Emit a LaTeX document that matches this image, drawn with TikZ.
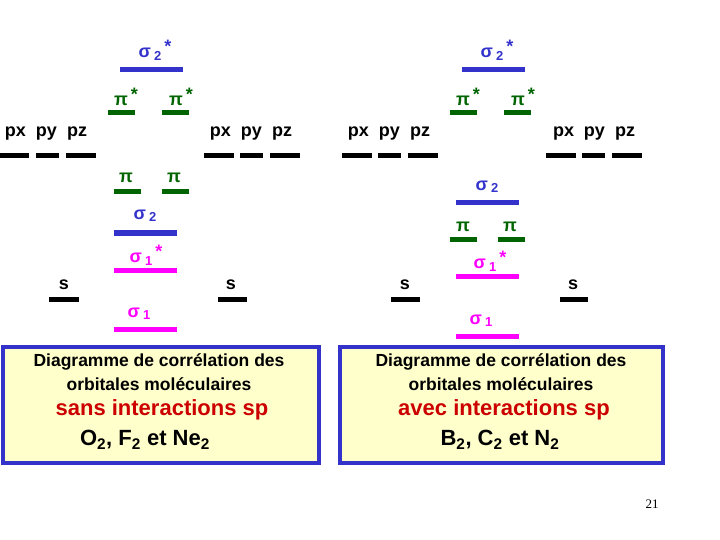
\documentclass[tikz,border=0pt]{standalone}
\usepackage{fontspec}
\setmainfont{Liberation Sans}
\newfontfamily\serifnum{Liberation Serif}
\definecolor{mblue}{RGB}{51,51,204}
\definecolor{mgreen}{RGB}{0,100,0}
\definecolor{mmag}{RGB}{255,0,255}
\definecolor{mred}{RGB}{204,0,0}
\definecolor{myel}{RGB}{255,255,204}
\newcommand{\lvl}[5]{\draw[line width=5pt,#5] (#2,#4) -- (#3,#4) coordinate (#1);}
\newcommand{\sgm}[1]{σ\,{\fontsize{13}{14}\selectfont\raisebox{-0.35ex}{#1}}}
\newcommand{\st}{\,\raisebox{0.6ex}{*}}
\begin{document}
\begin{tikzpicture}[x=1pt,y=-1pt,
  lab/.style={font=\fontsize{18}{20}\selectfont\bfseries,inner sep=0pt},
  sig/.style={font=\fontsize{18}{20}\selectfont\bfseries,inner sep=0pt},
  boxst/.style={draw=mblue,line width=4pt,fill=myel},
  txt/.style={font=\fontsize{17.5}{20}\selectfont\bfseries,inner sep=0pt},
  big/.style={font=\fontsize{22}{24}\selectfont\bfseries,inner sep=0pt}]
\useasboundingbox (0,0) rectangle (720,540);
% left diagram
\lvl{ls2s}{120}{183}{70}{mblue}
\node[sig,text=mblue] (lls2s) at (155,50) {\sgm{2}\st};
\lvl{lpsa}{108}{135}{113}{mgreen}
\lvl{lpsb}{162}{189}{113}{mgreen}
\node[sig,text=mgreen] (llpsa) at (126,97) {π\st};
\node[sig,text=mgreen] (llpsb) at (181,97) {π\st};
\lvl{lpx1}{0}{29}{156}{black}\lvl{lpy1}{36}{59}{156}{black}\lvl{lpz1}{66}{96}{156}{black}
\node[lab] (lp1) at (46,134) {px\ \ py\ \ pz};
\lvl{lpx2}{204}{234}{156}{black}\lvl{lpy2}{240}{263}{156}{black}\lvl{lpz2}{270}{300}{156}{black}
\node[lab] (lp2) at (251,134) {px\ \ py\ \ pz};
\lvl{lpa}{114}{141}{192}{mgreen}
\lvl{lpb}{162}{189}{192}{mgreen}
\node[sig,text=mgreen] (llpa) at (126,178) {π};
\node[sig,text=mgreen] (llpb) at (174,178) {π};
\lvl{ls2}{114}{177}{233}{mblue}
\node[sig,text=mblue] (lls2) at (145,216) {\sgm{2}};
\lvl{ls1s}{114}{177}{270}{mmag}
\node[sig,text=mmag] (lls1s) at (146,255) {\sgm{1}\st};
\lvl{lsa}{49}{79}{299}{black}\lvl{lsb}{218}{247}{299}{black}
\node[lab] (llsa) at (64,285) {s};
\node[lab] (llsb) at (231,285) {s};
\lvl{ls1}{114}{177}{329}{mmag}
\node[sig,text=mmag] (lls1) at (139,314) {\sgm{1}};
% right diagram
\lvl{rs2s}{462}{525}{70}{mblue}
\node[sig,text=mblue] (rls2s) at (497,50) {\sgm{2}\st};
\lvl{rpsa}{450}{477}{113}{mgreen}
\lvl{rpsb}{504}{531}{113}{mgreen}
\node[sig,text=mgreen] (rlpsa) at (468,97) {π\st};
\node[sig,text=mgreen] (rlpsb) at (523,97) {π\st};
\lvl{rpx1}{342}{372}{156}{black}\lvl{rpy1}{378}{401}{156}{black}\lvl{rpz1}{408}{438}{156}{black}
\node[lab] (rp1) at (389,134) {px\ \ py\ \ pz};
\lvl{rpx2}{546}{576}{156}{black}\lvl{rpy2}{582}{605}{156}{black}\lvl{rpz2}{612}{642}{156}{black}
\node[lab] (rp2) at (594,134) {px\ \ py\ \ pz};
\lvl{rs2}{456}{519}{203}{mblue}
\node[sig,text=mblue] (rls2) at (487,187) {\sgm{2}};
\lvl{rpa}{450}{477}{239}{mgreen}
\lvl{rpb}{498}{525}{239}{mgreen}
\node[sig,text=mgreen] (rlpa) at (463,227) {π};
\node[sig,text=mgreen] (rlpb) at (510,227) {π};
\lvl{rs1s}{456}{519}{276}{mmag}
\node[sig,text=mmag] (rls1s) at (490,261) {\sgm{1}\st};
\lvl{rsa}{391}{420}{299}{black}\lvl{rsb}{560}{588}{299}{black}
\node[lab] (rlsa) at (405,285) {s};
\node[lab] (rlsb) at (573,285) {s};
\lvl{rs1}{456}{519}{336}{mmag}
\node[sig,text=mmag] (rls1) at (481,321) {\sgm{1}};
% boxes
\draw[boxst] (3,347) rectangle (319,463);
\node[txt] (lt1) at (159,362) {Diagramme de corrélation des};
\node[txt] (lt2) at (159,384) {orbitales moléculaires};
\node[big,text=mred] (lt3) at (162,410) {sans interactions sp};
\node[big] (lt4) at (145,440) {O\textsubscript{2}, F\textsubscript{2} et Ne\textsubscript{2}};
\draw[boxst] (340,347) rectangle (663,463);
\node[txt] (rt1) at (501,362) {Diagramme de corrélation des};
\node[txt] (rt2) at (501,384) {orbitales moléculaires};
\node[big,text=mred] (rt3) at (504,410) {avec interactions sp};
\node[big] (rt4) at (500,440) {B\textsubscript{2}, C\textsubscript{2} et N\textsubscript{2}};
\node[font=\serifnum\fontsize{13}{14}\selectfont,inner sep=0pt] (pg) at (652,504) {21};
\end{tikzpicture}
\end{document}
